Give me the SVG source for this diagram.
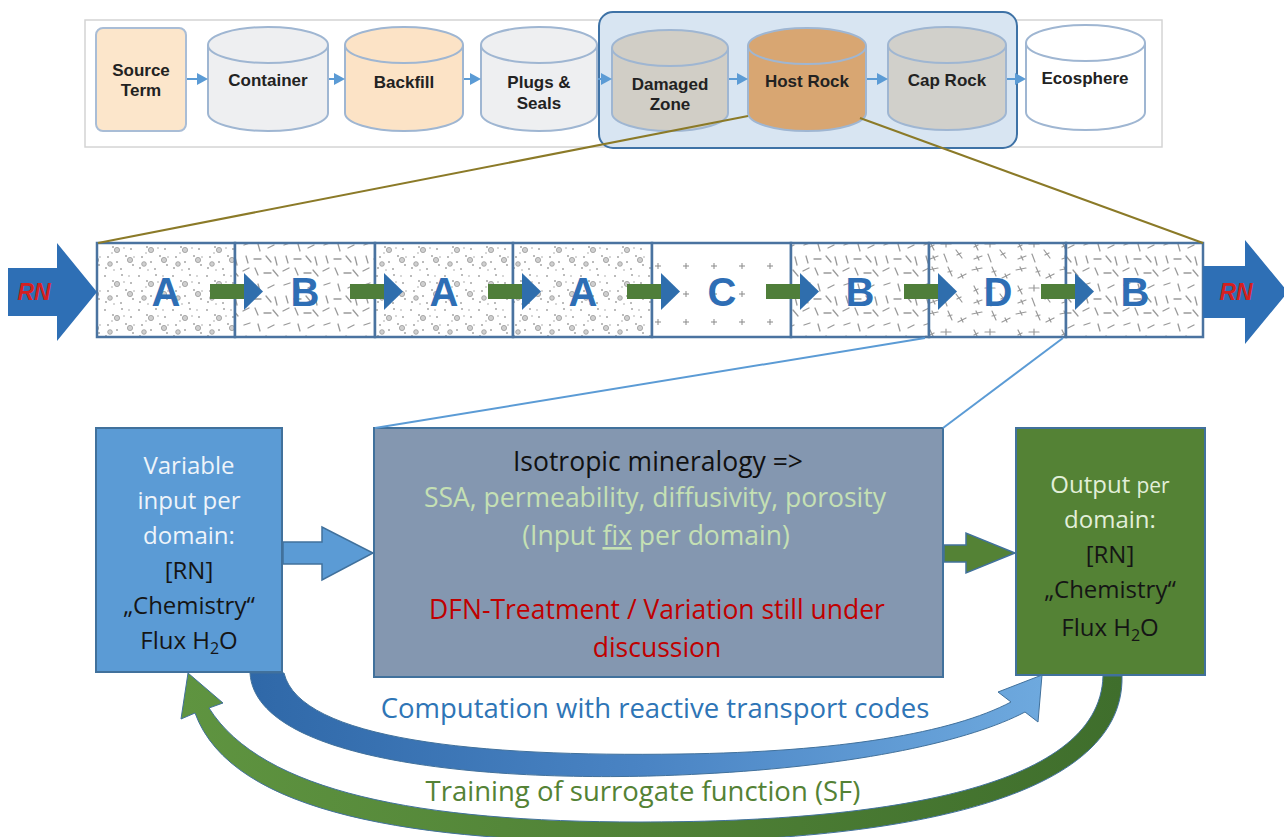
<svg xmlns="http://www.w3.org/2000/svg" width="1284" height="837" viewBox="0 0 1284 837">
<style>
.cyl{stroke:#9fb6d2;stroke-width:2}
.tb{font-family:"Liberation Sans",Arial,sans-serif;font-weight:bold;font-size:17px;fill:#222;text-anchor:middle}
.cl{font-family:"Liberation Sans",Arial,sans-serif;font-weight:bold;font-size:40px;fill:#2e6eb5;text-anchor:middle}
.bx{font-family:"Open Sans","Liberation Sans",sans-serif;font-size:24px;text-anchor:middle}
.bm{font-family:"Open Sans","Liberation Sans",sans-serif;font-size:26.5px;text-anchor:middle}
.cell{stroke:#4a73a0;stroke-width:2.5}
</style>
<defs>
<pattern id="pA" width="34" height="34" patternUnits="userSpaceOnUse">
<rect width="34" height="34" fill="#fff"/>
<g fill="#a5a5a5"><circle cx="3" cy="4" r="1"/><circle cx="11" cy="9" r="1"/><circle cx="20" cy="3" r="1"/><circle cx="29" cy="11" r="1"/><circle cx="6" cy="19" r="1"/><circle cx="15" cy="24" r="1"/><circle cx="24" cy="18" r="1"/><circle cx="31" cy="27" r="1"/><circle cx="4" cy="30" r="1"/><circle cx="19" cy="31" r="1"/><circle cx="27" cy="4" r="0.8"/><circle cx="10" cy="15" r="0.8"/><circle cx="22" cy="10" r="0.8"/><circle cx="32" cy="19" r="0.8"/><circle cx="12" cy="32" r="0.8"/></g>
<g fill="#cfcfcf" stroke="#999" stroke-width="0.8"><circle cx="15" cy="12" r="2.6"/><circle cx="28" cy="22" r="2.6"/><circle cx="8" cy="26" r="2.3"/></g>
</pattern>
<pattern id="pB" width="40" height="40" patternUnits="userSpaceOnUse">
<rect width="40" height="40" fill="#fff"/>
<g stroke="#9a9a9a" stroke-width="1.3" stroke-linecap="round">
<line x1="4" y1="5" x2="10" y2="3"/><line x1="18" y1="4" x2="20" y2="11"/><line x1="28" y1="8" x2="34" y2="5"/><line x1="6" y1="16" x2="8" y2="23"/><line x1="14" y1="19" x2="21" y2="19"/><line x1="26" y1="16" x2="31" y2="22"/><line x1="35" y1="17" x2="37" y2="25"/><line x1="3" y1="31" x2="9" y2="28"/><line x1="15" y1="28" x2="18" y2="35"/><line x1="24" y1="33" x2="31" y2="33"/><line x1="33" y1="30" x2="38" y2="36"/>
</g>
</pattern>
<pattern id="pC" width="28" height="28" patternUnits="userSpaceOnUse">
<rect width="28" height="28" fill="#fff"/>
<g stroke="#8a8a8a" stroke-width="1"><line x1="11" y1="14" x2="17" y2="14"/><line x1="14" y1="11" x2="14" y2="17"/></g>
</pattern>
<pattern id="pD" width="44" height="44" patternUnits="userSpaceOnUse">
<rect width="44" height="44" fill="#fff"/>
<g stroke="#999" stroke-width="1.2" stroke-linecap="round">
<line x1="4" y1="6" x2="14" y2="4"/><line x1="8" y1="3" x2="10" y2="7"/>
<line x1="24" y1="3" x2="28" y2="12"/><line x1="24" y1="8" x2="28" y2="7"/>
<line x1="34" y1="14" x2="42" y2="10"/><line x1="37" y1="10" x2="39" y2="14"/>
<line x1="6" y1="22" x2="10" y2="30"/><line x1="6" y1="27" x2="10" y2="25"/>
<line x1="17" y1="24" x2="27" y2="24"/><line x1="22" y1="21" x2="22" y2="27"/>
<line x1="32" y1="30" x2="38" y2="38"/><line x1="33" y1="35" x2="37" y2="33"/>
<line x1="6" y1="39" x2="14" y2="36"/><line x1="9" y1="36" x2="11" y2="40"/>
<line x1="20" y1="34" x2="23" y2="42"/>
</g>
</pattern>
<linearGradient id="gBlue" x1="0" y1="0" x2="1" y2="0">
<stop offset="0" stop-color="#2f68a8"/><stop offset="0.5" stop-color="#4a84c4"/><stop offset="1" stop-color="#6ea9de"/>
</linearGradient>
<linearGradient id="gGreen" x1="0" y1="0" x2="1" y2="0">
<stop offset="0" stop-color="#5f9440"/><stop offset="1" stop-color="#3f6e2c"/>
</linearGradient>
</defs>
<rect width="1284" height="837" fill="#fff"/>

<g id="top-frame">
<rect x="85" y="20" width="1077" height="127" fill="#fff" stroke="#d4d4d4" stroke-width="1.5"/>
<rect x="599" y="12" width="418" height="136" rx="14" fill="#d8e5f2" stroke="#3e72a6" stroke-width="2"/>
</g>
<g id="source-term">
<rect x="96" y="28" width="90" height="103" rx="7" fill="#fce6cb" stroke="#a9bdd6" stroke-width="2"/>
<text class="tb" x="141" y="76">Source</text><text class="tb" x="141" y="96">Term</text>
</g>
<g id="container">
<path class="cyl" d="M208,45 V113 A60,18 0 0 0 328,113 V45" fill="#eeeff1"/>
<ellipse class="cyl" cx="268" cy="45" rx="60" ry="18" fill="#eeeff1"/>
<text class="tb" x="268" y="86">Container</text>
</g>
<g id="backfill">
<path class="cyl" d="M345,45 V113 A59,18 0 0 0 463,113 V45" fill="#fce3c6"/>
<ellipse class="cyl" cx="404" cy="45" rx="59" ry="18" fill="#fce3c6"/>
<text class="tb" x="404" y="88">Backfill</text>
</g>
<g id="plugs-seals">
<path class="cyl" d="M481,45 V113 A58,18 0 0 0 597,113 V45" fill="#eeeff1"/>
<ellipse class="cyl" cx="539" cy="45" rx="58" ry="18" fill="#eeeff1"/>
<text class="tb" x="539" y="88">Plugs &amp;</text><text class="tb" x="539" y="109">Seals</text>
</g>
<g id="damaged-zone">
<path class="cyl" d="M612,48 V113 A58,18 0 0 0 728,113 V48" fill="#d1cec6"/>
<ellipse class="cyl" cx="670" cy="48" rx="58" ry="18" fill="#d1cec6"/>
<text class="tb" x="670" y="90">Damaged</text><text class="tb" x="670" y="110">Zone</text>
</g>
<g id="host-rock">
<path class="cyl" d="M748,46 V113 A59,18 0 0 0 866,113 V46" fill="#d8a672"/>
<ellipse class="cyl" cx="807" cy="46" rx="59" ry="18" fill="#d8a672"/>
<text class="tb" x="807" y="87">Host Rock</text>
</g>
<g id="cap-rock">
<path class="cyl" d="M888,45 V112 A59,18 0 0 0 1006,112 V45" fill="#d1d0cb"/>
<ellipse class="cyl" cx="947" cy="45" rx="59" ry="18" fill="#d1d0cb"/>
<text class="tb" x="947" y="86">Cap Rock</text>
</g>
<g id="ecosphere">
<path class="cyl" d="M1026,43 V112 A59.5,18 0 0 0 1145,112 V43" fill="#fff"/>
<ellipse class="cyl" cx="1085.5" cy="43" rx="59.5" ry="18" fill="#fff"/>
<text class="tb" x="1085" y="84">Ecosphere</text>
</g>

<g id="cell-1"><rect class="cell" x="97" y="243" width="138" height="94" fill="url(#pA)"/><text class="cl" x="166" y="306">A</text></g>
<g id="cell-2"><rect class="cell" x="235" y="243" width="140" height="94" fill="url(#pB)"/><text class="cl" x="305" y="306">B</text></g>
<g id="cell-3"><rect class="cell" x="375" y="243" width="138" height="94" fill="url(#pA)"/><text class="cl" x="444" y="306">A</text></g>
<g id="cell-4"><rect class="cell" x="513" y="243" width="139" height="94" fill="url(#pA)"/><text class="cl" x="583" y="306">A</text></g>
<g id="cell-5"><rect class="cell" x="652" y="243" width="139" height="94" fill="url(#pC)"/><text class="cl" x="722" y="306">C</text></g>
<g id="cell-6"><rect class="cell" x="791" y="243" width="138" height="94" fill="url(#pB)"/><text class="cl" x="860" y="306">B</text></g>
<g id="cell-7"><rect class="cell" x="929" y="243" width="137" height="94" fill="url(#pD)"/><text class="cl" x="998" y="306">D</text></g>
<g id="cell-8"><rect class="cell" x="1066" y="243" width="137" height="94" fill="url(#pB)"/><text class="cl" x="1135" y="306">B</text></g>

<g id="input-box">
<rect x="96" y="428" width="186" height="244" fill="#5b9bd5" stroke="#41719c" stroke-width="2"/>
<g class="bx">
<text x="189" y="474" fill="#eef4fa">Variable</text>
<text x="189" y="509" fill="#eef4fa">input per</text>
<text x="189" y="544" fill="#eef4fa">domain:</text>
<text x="189" y="579" fill="#151515">[RN]</text>
<text x="189" y="614" fill="#151515">„Chemistry“</text>
<text x="189" y="649" fill="#151515">Flux H<tspan font-size="16" dy="5">2</tspan><tspan dy="-5">O</tspan></text>
</g>
</g>
<g id="model-box">
<rect x="374" y="428" width="569" height="249" fill="#8497b0" stroke="#41719c" stroke-width="2"/>
<g class="bm">
<text x="658" y="471" fill="#111">Isotropic mineralogy =&gt;</text>
<text x="655" y="507" fill="#c5e0b4">SSA, permeability, diffusivity, porosity</text>
<text x="656" y="545" fill="#c5e0b4">(Input <tspan text-decoration="underline">fix</tspan> per domain)</text>
<text x="657" y="619" fill="#c00000">DFN-Treatment / Variation still under</text>
<text x="657" y="657" fill="#c00000">discussion</text>
</g>
</g>
<g id="output-box">
<rect x="1016" y="428" width="189" height="247" fill="#548235" stroke="#41719c" stroke-width="2"/>
<g class="bx" font-size="25">
<text x="1110" y="493" fill="#e2efd9">Output <tspan font-size="21">per</tspan></text>
<text x="1110" y="528" fill="#e2efd9">domain:</text>
<text x="1110" y="563" fill="#151515">[RN]</text>
<text x="1110" y="598" fill="#151515">„Chemistry“</text>
<text x="1110" y="636" fill="#151515">Flux H<tspan font-size="16" dy="5">2</tspan><tspan dy="-5">O</tspan></text>
</g>
</g>

<g id="connectors">
<g fill="#5b9bd5" stroke="#5b9bd5" stroke-width="2">
<line x1="187" y1="79" x2="198" y2="79"/><polygon points="197,73 208,79 197,85" stroke="none"/>
<line x1="329" y1="79" x2="335" y2="79"/><polygon points="334,73 345,79 334,85" stroke="none"/>
<line x1="464" y1="79" x2="471" y2="79"/><polygon points="470,73 481,79 470,85" stroke="none"/>
<line x1="598" y1="79" x2="602" y2="79"/><polygon points="601,73 612,79 601,85" stroke="none"/>
<line x1="729" y1="79" x2="738" y2="79"/><polygon points="737,73 748,79 737,85" stroke="none"/>
<line x1="867" y1="79" x2="878" y2="79"/><polygon points="877,73 888,79 877,85" stroke="none"/>
<line x1="1007" y1="79" x2="1016" y2="79"/><polygon points="1015,73 1026,79 1015,85" stroke="none"/>
</g>
<g stroke="#8b7a28" stroke-width="2" fill="none">
<line x1="748" y1="116" x2="98" y2="243"/>
<line x1="860" y1="118" x2="1203" y2="243"/>
</g>
<g stroke="#5b9bd5" stroke-width="2" fill="none">
<line x1="925" y1="338" x2="375" y2="428"/>
<line x1="1063" y1="338" x2="943" y2="428"/>
</g>
<g id="rn-in">
<polygon points="8,268 57,268 57,243 97,292 57,341 57,316 8,316" fill="#2e6fb5"/>
<text x="34" y="300" font-family="Liberation Sans,Arial,sans-serif" font-size="23" font-weight="bold" font-style="italic" fill="#d42020" text-anchor="middle">RN</text>
</g>
<g id="rn-out">
<polygon points="1203,266 1245,266 1245,240 1288,292 1245,344 1245,318 1203,318" fill="#2e6fb5"/>
<text x="1236" y="300" font-family="Liberation Sans,Arial,sans-serif" font-size="23" font-weight="bold" font-style="italic" fill="#d42020" text-anchor="middle">RN</text>
</g>
<g id="cell-arrows">
<g><rect x="210" y="284" width="35" height="15" fill="#4f7e3a"/><polygon points="244,273 263,291.5 244,310" fill="#2f6ead"/></g>
<g transform="translate(140,0)"><rect x="210" y="284" width="35" height="15" fill="#4f7e3a"/><polygon points="244,273 263,291.5 244,310" fill="#2f6ead"/></g>
<g transform="translate(278,0)"><rect x="210" y="284" width="35" height="15" fill="#4f7e3a"/><polygon points="244,273 263,291.5 244,310" fill="#2f6ead"/></g>
<g transform="translate(417,0)"><rect x="210" y="284" width="35" height="15" fill="#4f7e3a"/><polygon points="244,273 263,291.5 244,310" fill="#2f6ead"/></g>
<g transform="translate(556,0)"><rect x="210" y="284" width="35" height="15" fill="#4f7e3a"/><polygon points="244,273 263,291.5 244,310" fill="#2f6ead"/></g>
<g transform="translate(694,0)"><rect x="210" y="284" width="35" height="15" fill="#4f7e3a"/><polygon points="244,273 263,291.5 244,310" fill="#2f6ead"/></g>
<g transform="translate(831,0)"><rect x="210" y="284" width="35" height="15" fill="#4f7e3a"/><polygon points="244,273 263,291.5 244,310" fill="#2f6ead"/></g>
</g>
<polygon id="arrow-in-model" points="283,542 322,542 322,527 373,553 322,580 322,564 283,564" fill="#5b9bd5" stroke="#41719c" stroke-width="1.5"/>
<polygon id="arrow-model-out" points="944,545 966,545 966,533 1015,553 966,573 966,562 944,562" fill="#548235" stroke="#41719c" stroke-width="1.5"/>
<path id="compute-arrow" d="M250,673 C256,768 520,784 700,774 C860,766 972,740 1025,712 L1038,722 L1042,675 L998,692 L1011,702 C952,733 840,752 680,754 C480,757 300,740 284,673 Z" fill="url(#gBlue)" stroke="#41719c" stroke-width="1"/>
<path id="training-arrow" d="M1103,676 C1100,792 870,822 640,822 C420,822 262,792 209,708 L223,703 L188,673 L181,719 L195,713 C232,815 420,842 640,842 C880,842 1125,805 1122,676 Z" fill="url(#gGreen)" stroke="#41719c" stroke-width="1"/>
<text x="655" y="718" font-family="Open Sans,Liberation Sans,sans-serif" font-size="27.5" fill="#2e75b6" text-anchor="middle">Computation with reactive transport codes</text>
<text x="643" y="801" font-family="Open Sans,Liberation Sans,sans-serif" font-size="27.5" fill="#548235" text-anchor="middle">Training of surrogate function (SF)</text>
</g>
</svg>
